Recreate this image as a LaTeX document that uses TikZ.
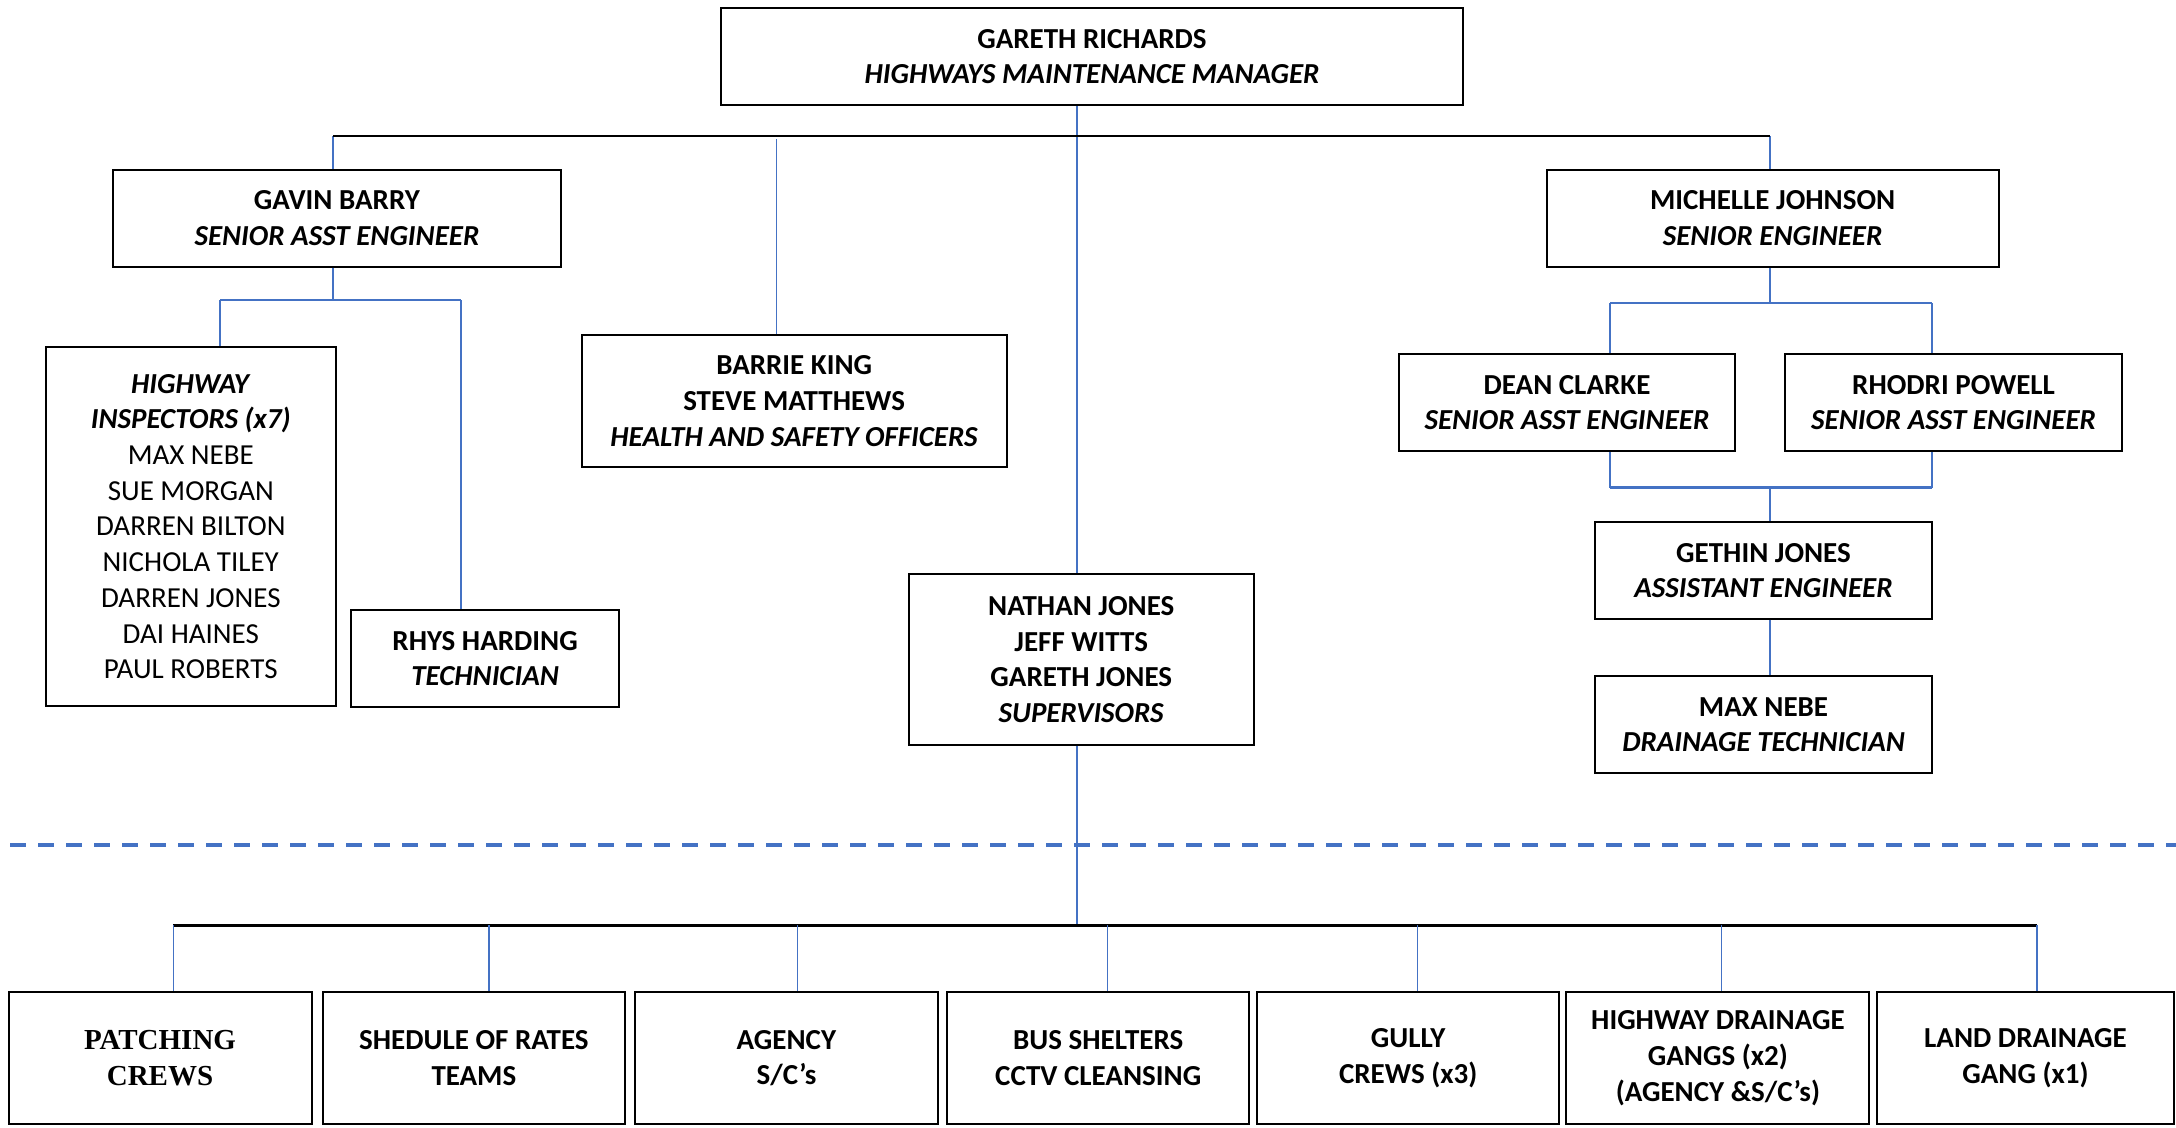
\documentclass[tikz,border=0pt]{standalone}
\usepackage{fontspec}
\setmainfont{Carlito}
\newfontfamily\serifbox{Liberation Serif}
\definecolor{lnblue}{HTML}{4472C4}
\begin{document}
\begin{tikzpicture}[x=1pt,y=-1pt,
  box/.style={draw=black, line width=2pt, inner sep=0pt, align=center,
    font=\fontsize{29}{35.7}\selectfont, text=black},
  conn/.style={draw=lnblue, line width=1.6pt},
  bus/.style={draw=black, line width=2.6pt},
  sep/.style={draw=lnblue, line width=3.6pt, dash pattern=on 16pt off 12pt}]
\useasboundingbox (0,0) rectangle (2176,1127);

% ---- boxes ----
\node[box, minimum width=742pt, minimum height=97pt] (top) at (1092,56.5)
  {\textbf{GARETH RICHARDS}\\\textbf{\textit{HIGHWAYS MAINTENANCE MANAGER}}};
\node[box, minimum width=448pt, minimum height=96.5pt] (gavin) at (337,218.25)
  {\textbf{GAVIN BARRY}\\\textbf{\textit{SENIOR ASST ENGINEER}}};
\node[box, minimum width=452pt, minimum height=96.5pt] (michelle) at (1772.6,218.25)
  {\textbf{MICHELLE JOHNSON}\\\textbf{\textit{SENIOR ENGINEER}}};
\node[box, minimum width=290.4pt, minimum height=359pt] (insp) at (190.8,526.5)
  {\textbf{\textit{HIGHWAY}}\\\textbf{\textit{INSPECTORS (x7)}}\\MAX NEBE\\SUE MORGAN\\DARREN BILTON\\NICHOLA TILEY\\DARREN JONES\\DAI HAINES\\PAUL ROBERTS};
\node[box, minimum width=268.6pt, minimum height=96.7pt] (rhys) at (485.1,658.65)
  {\textbf{RHYS HARDING}\\\textbf{\textit{TECHNICIAN}}};
\node[box, minimum width=425pt, minimum height=131.8pt] (barrie) at (794.15,400.9)
  {\textbf{BARRIE KING}\\\textbf{STEVE MATTHEWS}\\\textbf{\textit{HEALTH AND SAFETY OFFICERS}}};
\node[box, minimum width=344.5pt, minimum height=170.4pt] (nathan) at (1081.25,659.5)
  {\textbf{NATHAN JONES}\\\textbf{JEFF WITTS}\\\textbf{GARETH JONES}\\\textbf{\textit{SUPERVISORS}}};
\node[box, minimum width=336.7pt, minimum height=97pt] (dean) at (1567,402.5)
  {\textbf{DEAN CLARKE}\\\textbf{\textit{SENIOR ASST ENGINEER}}};
\node[box, minimum width=336.8pt, minimum height=97pt] (rhodri) at (1953.6,402.5)
  {\textbf{RHODRI POWELL}\\\textbf{\textit{SENIOR ASST ENGINEER}}};
\node[box, minimum width=337pt, minimum height=96.4pt] (gethin) at (1763.5,570.5)
  {\textbf{GETHIN JONES}\\\textbf{\textit{ASSISTANT ENGINEER}}};
\node[box, minimum width=337pt, minimum height=96.7pt] (maxn) at (1763.5,724.65)
  {\textbf{MAX NEBE}\\\textbf{\textit{DRAINAGE TECHNICIAN}}};

\node[box, minimum width=303pt, minimum height=132pt] (patch) at (160,1058)
  {\serifbox\bfseries PATCHING\\\serifbox\bfseries CREWS};
\node[box, minimum width=302.3pt, minimum height=132pt] (shed) at (473.9,1058)
  {\textbf{SHEDULE OF RATES}\\\textbf{TEAMS}};
\node[box, minimum width=303pt, minimum height=132pt] (agency) at (786.5,1058)
  {\textbf{AGENCY}\\\textbf{S/C’s}};
\node[box, minimum width=302.3pt, minimum height=132pt] (bus) at (1098.2,1058)
  {\textbf{BUS SHELTERS}\\\textbf{CCTV CLEANSING}};
\node[box, minimum width=302.3pt, minimum height=132pt] (gully) at (1408.2,1058)
  {\textbf{GULLY}\\\textbf{CREWS (x3)}};
\node[box, minimum width=303pt, minimum height=132pt] (hwd) at (1717.9,1058)
  {\textbf{HIGHWAY DRAINAGE}\\\textbf{GANGS (x2)}\\\textbf{(AGENCY \&S/C’s)}};
\node[box, minimum width=297pt, minimum height=132pt] (land) at (2025.5,1058)
  {\textbf{LAND DRAINAGE}\\\textbf{GANG (x1)}};

% ---- bus coordinates ----
\coordinate (b1L) at (333,136);
\coordinate (b1R) at (1770,136);
\coordinate (b1B) at (776.6,139);
\coordinate (b1N) at (1077,136);
\coordinate (gv) at (333,300);
\coordinate (gvL) at (220,300);
\coordinate (gvR) at (461,300);
\coordinate (mj) at (1770,303);
\coordinate (mjL) at (1610,303);
\coordinate (mjR) at (1932,303);
\coordinate (dr) at (1770,487.5);
\coordinate (drL) at (1610,487.5);
\coordinate (drR) at (1932,487.5);
\coordinate (b2N) at (1077,925);
\coordinate (b2L) at (173.3,925);
\coordinate (b2R) at (2037,925);
\coordinate (sepL) at (10,844.7);
\coordinate (sepR) at (2176,844.7);

% ---- separator ----
\draw[sep] (sepL) -- (sepR);

% ---- upper connectors ----
\draw[conn] (top.south -| b1N) -- (nathan.north -| b1N);
\draw[conn] (b1L) -- (gavin.north -| b1L);
\draw[conn] (b1B) -- (barrie.north -| b1B);
\draw[conn] (b1R) -- (michelle.north -| b1R);
\draw[bus] (b1L) -- (b1R);

\draw[conn] (gavin.south -| gv) -- (gv);
\draw[conn, line width=2.2pt] (gvL) -- (gvR);
\draw[conn] (gvL) -- (insp.north -| gvL);
\draw[conn] (gvR) -- (rhys.north -| gvR);

\draw[conn] (michelle.south -| mj) -- (mj);
\draw[conn, line width=2.2pt] (mjL) -- (mjR);
\draw[conn] (mjL) -- (dean.north -| mjL);
\draw[conn] (mjR) -- (rhodri.north -| mjR);

\draw[conn] (dean.south -| drL) -- (drL);
\draw[conn] (rhodri.south -| drR) -- (drR);
\draw[conn, line width=2.6pt] (drL) -- (drR);
\draw[conn] (dr) -- (gethin.north -| dr);
\draw[conn] (gethin.south -| dr) -- (maxn.north -| dr);

% ---- lower connectors ----
\draw[conn] (nathan.south -| b2N) -- (b2N);
\draw[bus, line width=3pt] (b2L) -- (b2R);
\foreach \n/\x in {patch/173.3, shed/489, agency/797.6, bus/1107.6, gully/1417.6, hwd/1721.4, land/2037}{
  \draw[conn] (\x,925) -- (\n.north -| {(\x,925)});
}
\end{tikzpicture}
\end{document}
